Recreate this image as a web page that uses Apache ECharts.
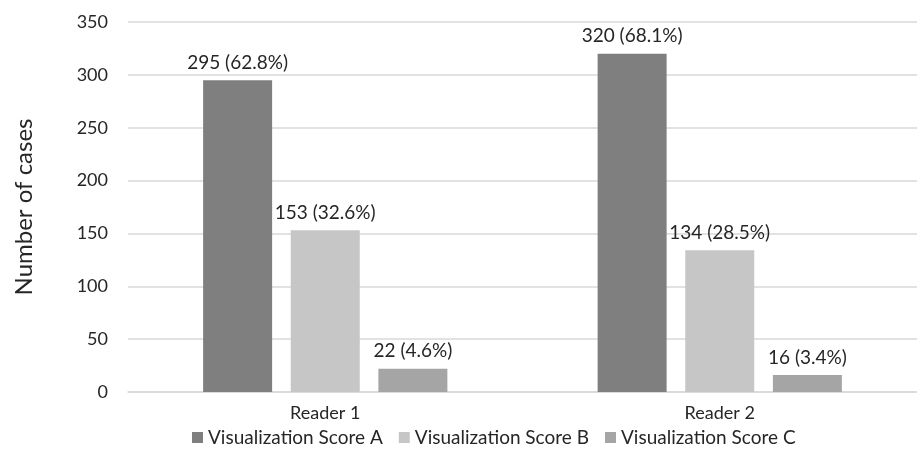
<!DOCTYPE html>
<html>
<head>
<meta charset="utf-8">
<script src="https://cdn.jsdelivr.net/npm/echarts@6/dist/echarts.min.js"></script>
<style>
  html, body { margin: 0; padding: 0; background: #ffffff; }
  #chart { width: 917px; height: 458px; }
</style>
</head>
<body>
<div id="chart"></div>
<script>
// Readers on the x axis, one bar per visualization score
const categories = ['Reader 1', 'Reader 2'];
const seriesNames = ['Visualization Score A', 'Visualization Score B', 'Visualization Score C'];
const scoreA = [295, 320];
const scoreB = [153, 134];
const scoreC = [22, 16];
const pctA = ['62.8%', '68.1%'];
const pctB = ['32.6%', '28.5%'];
const pctC = ['4.6%', '3.4%'];
const yTicks = [0, 50, 100, 150, 200, 250, 300, 350];

const FONT = 'Lato';
const TEXT = '#262626';
const colors = ['#7f7f7f', '#c6c6c6', '#a5a5a5'];
const values = [scoreA, scoreB, scoreC];
const pcts = [pctA, pctB, pctC];

const chart = echarts.init(document.getElementById('chart'), null, { renderer: 'canvas' });

const series = seriesNames.map((name, i) => ({
  name: name,
  type: 'bar',
  data: values[i],
  barWidth: 69,
  barGap: '27%',
  itemStyle: { color: colors[i] },
  label: {
    show: true,
    position: 'top',
    distance: 8,
    fontFamily: FONT,
    fontSize: 19,
    color: TEXT,
    formatter: (p) => p.value + ' (' + pcts[i][p.dataIndex] + ')'
  }
}));

chart.setOption({
  animation: false,
  textStyle: { fontFamily: FONT },
  color: colors,
  grid: { left: 128, right: 0, top: 22, bottom: 66, containLabel: false },
  legend: {
    data: seriesNames,
    left: 187,
    top: 423,
    icon: 'rect',
    itemWidth: 11,
    itemHeight: 11,
    itemGap: 16,
    textStyle: { fontFamily: FONT, fontSize: 19, color: TEXT }
  },
  xAxis: {
    type: 'category',
    data: categories,
    axisLine: { show: true, lineStyle: { color: '#d9d9d9', width: 1.5 } },
    axisTick: { show: false },
    axisLabel: { fontFamily: FONT, fontSize: 18, color: TEXT, margin: 12 }
  },
  yAxis: {
    type: 'value',
    min: yTicks[0],
    max: yTicks[yTicks.length - 1],
    interval: yTicks[1] - yTicks[0],
    name: 'Number of cases',
    nameLocation: 'middle',
    nameGap: 92,
    nameTextStyle: { fontFamily: FONT, fontSize: 24, color: TEXT },
    axisLine: { show: false },
    axisTick: { show: false },
    axisLabel: { fontFamily: FONT, fontSize: 18, color: TEXT, margin: 20 },
    splitLine: { lineStyle: { color: '#d9d9d9', width: 1.5 } }
  },
  series: series
});
</script>
</body>
</html>
